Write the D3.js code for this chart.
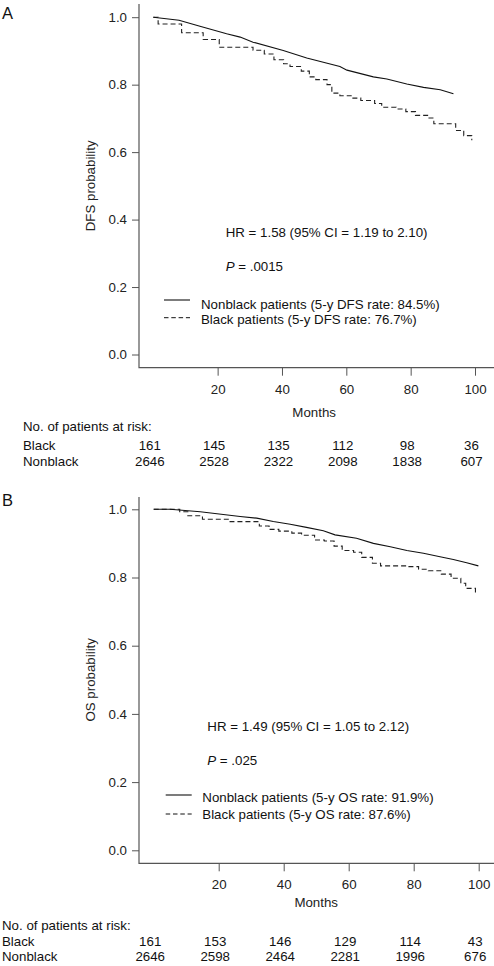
<!DOCTYPE html>
<html><head><meta charset="utf-8">
<script src="https://cdn.jsdelivr.net/npm/d3@7"></script>
<style>
html,body{margin:0;padding:0;background:#fff;}
svg{display:block;font-family:"Liberation Sans",Arial,Helvetica,sans-serif;}
</style></head>
<body><svg id="c" width="494" height="966"></svg>
<script>
// ---- Data ----
const monthTicks = [20, 40, 60, 80, 100];
const probTicks = [0.0, 0.2, 0.4, 0.6, 0.8, 1.0];
const riskTimes = [0, 20, 40, 60, 80, 100];

// Panel A: DFS
const dfsNonblackT = [0, 8, 14.5, 22.8, 27, 31, 40.4, 47.7, 58, 60.2, 68.4, 72.6, 78.8, 84, 89.2, 93.3];
const dfsNonblackS = [1.0, 0.991, 0.973, 0.951, 0.941, 0.926, 0.901, 0.879, 0.854, 0.843, 0.823, 0.817, 0.802, 0.792, 0.785, 0.773];
const dfsBlackT = [0, 1.5, 8.8, 15.5, 20.5, 31, 34.5, 37.5, 40.5, 42.5, 46, 48.5, 50.5, 54, 55.5, 58, 61.5, 64.5, 68.8, 71, 75.5, 78.5, 81.5, 85.5, 87.2, 94, 96.5, 99];
const dfsBlackS = [1.0, 0.980, 0.954, 0.934, 0.911, 0.902, 0.891, 0.874, 0.862, 0.854, 0.840, 0.823, 0.815, 0.800, 0.775, 0.767, 0.760, 0.753, 0.744, 0.733, 0.728, 0.720, 0.709, 0.701, 0.684, 0.664, 0.649, 0.635];
const dfsRiskBlack = [161, 145, 135, 112, 98, 36];
const dfsRiskNonblack = [2646, 2528, 2322, 2098, 1838, 607];

// Panel B: OS
const osNonblackT = [0, 5, 14.3, 26.6, 31.7, 36.8, 42, 47, 52.2, 55.8, 62.4, 67.6, 72.8, 77.9, 83, 88.1, 92.2, 96.3, 99.9];
const osNonblackS = [1.0, 1.0, 0.993, 0.979, 0.974, 0.964, 0.956, 0.947, 0.937, 0.925, 0.915, 0.900, 0.890, 0.879, 0.871, 0.861, 0.853, 0.843, 0.834];
const osBlackT = [0, 8, 10.5, 15, 23.5, 32.5, 35.5, 38.5, 42.5, 45.5, 49.5, 52.5, 55.5, 58, 61.5, 64, 67.3, 69.8, 77.5, 81.5, 84.5, 88.5, 91.5, 94.5, 96, 99];
const osBlackS = [1.0, 0.993, 0.981, 0.971, 0.964, 0.951, 0.941, 0.936, 0.930, 0.924, 0.910, 0.907, 0.892, 0.879, 0.874, 0.859, 0.842, 0.834, 0.832, 0.824, 0.820, 0.810, 0.798, 0.783, 0.768, 0.752];
const osRiskBlack = [161, 153, 146, 129, 114, 43];
const osRiskNonblack = [2646, 2598, 2464, 2281, 1996, 676];

const svg = d3.select("#c");
const axisColor = "#555";
const FS = 13.3;

function panel(o) {
  const g = svg.append("g");
  const x = d3.scaleLinear().domain([0, 100]).range([o.x0, o.x100]);
  const y = d3.scaleLinear().domain([0, 1]).range([o.y0, o.y1]);

  g.append("text").attr("x", 2).attr("y", o.letterY).attr("font-size", 16.5).attr("fill", "#111").text(o.letter);

  const ya = g.append("g").attr("transform", `translate(${o.axisX},0)`)
    .call(d3.axisLeft(y).tickValues(probTicks).tickFormat(d3.format(".1f")).tickSize(7).tickPadding(5));
  ya.select(".domain").remove();
  ya.selectAll("line").attr("stroke", axisColor);
  ya.selectAll("text").attr("font-size", FS).attr("fill", "#222").attr("font-family", "Liberation Sans, Arial, sans-serif");

  const xa = g.append("g").attr("transform", `translate(0,${o.axisY})`)
    .call(d3.axisBottom(x).tickValues(monthTicks).tickSize(8).tickPadding(o.xPad));
  xa.select(".domain").remove();
  xa.selectAll("line").attr("stroke", axisColor);
  xa.selectAll("text").attr("font-size", FS).attr("fill", "#222").attr("font-family", "Liberation Sans, Arial, sans-serif");

  g.append("path").attr("d", `M${o.axisX},${o.axisTop}V${o.axisY}H494`)
    .attr("fill", "none").attr("stroke", axisColor).attr("stroke-width", 1.2);

  g.append("text").attr("transform", `translate(${o.ylabX},${(o.y0 + o.y1) / 2}) rotate(-90)`)
    .attr("text-anchor", "middle").attr("font-size", FS).attr("fill", "#222").text(o.ylabel);
  g.append("text").attr("x", (o.x0 + o.x100) / 2 + 0).attr("y", o.monthsY)
    .attr("text-anchor", "middle").attr("font-size", FS).attr("fill", "#222").text("Months");

  const linear = d3.line().x(d => x(d[0])).y(d => y(d[1]));
  const step = d3.line().x(d => x(d[0])).y(d => y(d[1])).curve(d3.curveStepAfter);
  g.append("path").attr("d", step(o.bT.map((t, i) => [t, o.bS[i]])))
    .attr("fill", "none").attr("stroke", "#222").attr("stroke-width", 1.1).attr("stroke-dasharray", "5,3");
  g.append("path").attr("d", linear(o.nT.map((t, i) => [t, o.nS[i]])))
    .attr("fill", "none").attr("stroke", "#111").attr("stroke-width", 1.1);

  g.append("text").attr("x", o.annX).attr("y", o.hrY).attr("font-size", FS).attr("fill", "#111").text(o.hr);
  const pt = g.append("text").attr("x", o.annX).attr("y", o.pY).attr("font-size", FS).attr("fill", "#111");
  pt.append("tspan").attr("font-style", "italic").text("P");
  pt.append("tspan").text(" = " + o.p);

  g.append("line").attr("x1", o.legX).attr("x2", o.legX + 26).attr("y1", o.leg1Y).attr("y2", o.leg1Y)
    .attr("stroke", "#111").attr("stroke-width", 1.1);
  g.append("line").attr("x1", o.legX).attr("x2", o.legX + 26).attr("y1", o.leg2Y).attr("y2", o.leg2Y)
    .attr("stroke", "#111").attr("stroke-width", 1).attr("stroke-dasharray", "4.5,2.8");
  g.append("text").attr("x", o.legTX).attr("y", o.leg1TY).attr("font-size", FS).attr("fill", "#111").text(o.l1);
  g.append("text").attr("x", o.legTX).attr("y", o.leg2TY).attr("font-size", FS).attr("fill", "#111").text(o.l2);

  g.append("text").attr("x", o.riskX).attr("y", o.riskHY).attr("font-size", FS).attr("fill", "#111").text("No. of patients at risk:");
  g.append("text").attr("x", o.riskX).attr("y", o.riskBY).attr("font-size", FS).attr("fill", "#111").text("Black");
  g.append("text").attr("x", o.riskX).attr("y", o.riskNY).attr("font-size", FS).attr("fill", "#111").text("Nonblack");
  riskTimes.forEach((t, i) => {
    g.append("text").attr("x", x(t) - 3.5).attr("y", o.riskBY).attr("text-anchor", "middle").attr("font-size", FS).attr("fill", "#111").text(o.rb[i]);
    g.append("text").attr("x", x(t) - 3.5).attr("y", o.riskNY).attr("text-anchor", "middle").attr("font-size", FS).attr("fill", "#111").text(o.rn[i]);
  });
}

panel({
  letter: "A", letterY: 18.5,
  x0: 153.3, x100: 475, y0: 354.5, y1: 17.2,
  axisX: 139, axisY: 367.7, axisTop: 4, xPad: 9,
  ylabX: 95, ylabel: "DFS probability", monthsY: 417,
  nT: dfsNonblackT, nS: dfsNonblackS, bT: dfsBlackT, bS: dfsBlackS,
  annX: 225.7, hrY: 237, pY: 271.3, p: ".0015",
  hr: "HR = 1.58 (95% CI = 1.19 to 2.10)",
  legX: 164, leg1Y: 300, leg2Y: 317.7, legTX: 201, leg1TY: 308.6, leg2TY: 323.6,
  l1: "Nonblack patients (5-y DFS rate: 84.5%)", l2: "Black patients (5-y DFS rate: 76.7%)",
  riskX: 23, riskHY: 431.3, riskBY: 450.3, riskNY: 465.5,
  rb: dfsRiskBlack, rn: dfsRiskNonblack
});

panel({
  letter: "B", letterY: 506,
  x0: 153.7, x100: 478.7, y0: 850.3, y1: 509.3,
  axisX: 139, axisY: 863.3, axisTop: 497, xPad: 8,
  ylabX: 95, ylabel: "OS probability", monthsY: 906.5,
  nT: osNonblackT, nS: osNonblackS, bT: osBlackT, bS: osBlackS,
  annX: 207.3, hrY: 731.3, pY: 765.3, p: ".025",
  hr: "HR = 1.49 (95% CI = 1.05 to 2.12)",
  legX: 165.7, leg1Y: 795, leg2Y: 814, legTX: 202.3, leg1TY: 802.3, leg2TY: 819.3,
  l1: "Nonblack patients (5-y OS rate: 91.9%)", l2: "Black patients (5-y OS rate: 87.6%)",
  riskX: 2, riskHY: 930.3, riskBY: 946.3, riskNY: 961.3,
  rb: osRiskBlack, rn: osRiskNonblack
});
</script>
</body></html>
